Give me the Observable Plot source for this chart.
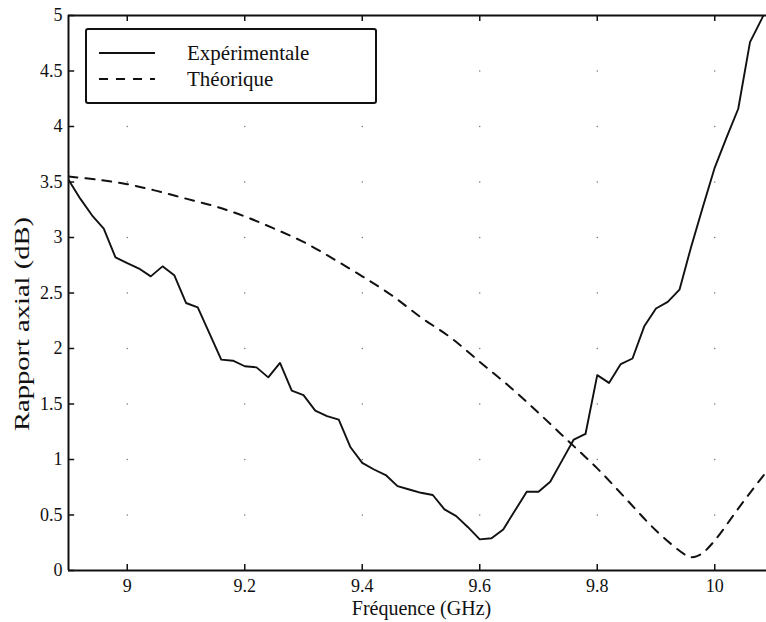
<!DOCTYPE html>
<html>
<head>
<meta charset="utf-8">
<script src="https://cdn.jsdelivr.net/npm/d3@7"></script>
<script src="https://cdn.jsdelivr.net/npm/@observablehq/plot@0.6"></script>
<style>
  html, body { margin: 0; padding: 0; background: #fff; }
  #wrap { position: relative; width: 766px; height: 622px; overflow: hidden; }
  #legend {
    position: absolute; left: 85px; top: 28px; width: 288px; height: 72px;
    border: 2px solid #111; border-radius: 3px; background: #fff;
    font-family: "Liberation Serif", "DejaVu Serif", serif; font-size: 21px; color: #111;
  }
  .row { position: absolute; left: 0; height: 26px; display: flex; align-items: center; }
  .row svg { margin-left: 12px; }
  .row span { margin-left: 30px; }
</style>
</head>
<body>
<div id="wrap">
  <div id="chart"></div>
  <div id="legend">
    <div class="row" style="top: 10px;">
      <svg width="58" height="10"><line x1="0" x2="56" y1="5" y2="5" stroke="#111" stroke-width="2"/></svg>
      <span>Expérimentale</span>
    </div>
    <div class="row" style="top: 36px;">
      <svg width="58" height="10"><line x1="0" x2="56" y1="5" y2="5" stroke="#111" stroke-width="2" stroke-dasharray="9,8"/></svg>
      <span>Théorique</span>
    </div>
  </div>
</div>
<script>
// Measured axial ratio (dB) versus frequency (GHz)
const freqExp = [8.90, 8.92, 8.94, 8.96, 8.98, 9.00, 9.02, 9.04, 9.06, 9.08, 9.10, 9.12,
  9.16, 9.18, 9.20, 9.22, 9.24, 9.26, 9.28, 9.30, 9.32, 9.34, 9.36, 9.38, 9.40, 9.42,
  9.44, 9.46, 9.48, 9.50, 9.52, 9.54, 9.56, 9.58, 9.60, 9.62, 9.64, 9.66, 9.68, 9.70,
  9.72, 9.74, 9.76, 9.78, 9.80, 9.82, 9.84, 9.86, 9.88, 9.90, 9.92, 9.94, 9.96, 9.98,
  10.00, 10.02, 10.04, 10.06, 10.08, 10.10];
const ratioExp = [3.52, 3.35, 3.20, 3.08, 2.82, 2.77, 2.72, 2.65, 2.74, 2.66, 2.41, 2.37,
  1.90, 1.89, 1.84, 1.83, 1.74, 1.87, 1.62, 1.58, 1.44, 1.39, 1.36, 1.11, 0.97, 0.91,
  0.86, 0.76, 0.73, 0.70, 0.68, 0.55, 0.49, 0.39, 0.28, 0.29, 0.37, 0.54, 0.71, 0.71,
  0.80, 0.99, 1.18, 1.23, 1.76, 1.69, 1.86, 1.91, 2.20, 2.36, 2.42, 2.53, 2.92, 3.28,
  3.63, 3.90, 4.16, 4.76, 4.97, 5.20];

// Theoretical axial ratio (dB)
const freqTheo = [8.90, 8.95, 9.00, 9.05, 9.10, 9.15, 9.20, 9.25, 9.30, 9.35, 9.40, 9.45,
  9.50, 9.55, 9.60, 9.65, 9.70, 9.75, 9.80, 9.85, 9.90, 9.95, 9.96, 9.97, 9.98, 10.00,
  10.05, 10.10];
const ratioTheo = [3.55, 3.52, 3.48, 3.42, 3.35, 3.28, 3.19, 3.08, 2.96, 2.81, 2.65, 2.48,
  2.28, 2.10, 1.88, 1.66, 1.42, 1.17, 0.92, 0.64, 0.36, 0.14, 0.12, 0.13, 0.16, 0.27,
  0.63, 0.97];

const xTicks = [9, 9.2, 9.4, 9.6, 9.8, 10];
const xTickLabels = ["9", "9.2", "9.4", "9.6", "9.8", "10"];
const yTicks = [0, 0.5, 1, 1.5, 2, 2.5, 3, 3.5, 4, 4.5, 5];
const yTickLabels = ["0", "0.5", "1", "1.5", "2", "2.5", "3", "3.5", "4", "4.5", "5"];

const experimental = freqExp.map((f, i) => ({f, r: ratioExp[i]}));
const theoretical = freqTheo.map((f, i) => ({f, r: ratioTheo[i]}));

const xMin = 8.9, xMax = 10.1, yMin = 0, yMax = 5;
const tickX = 0.0105;  // inward tick length in GHz (~6px)
const tickY = 0.055;   // inward tick length in dB (~6px)

// faint dotted-grid intersections
const gridDots = xTicks.flatMap(f => yTicks.slice(1, -1).map(r => ({f, r})));

const chart = Plot.plot({
  width: 766,
  height: 622,
  marginLeft: 68,
  marginTop: 15,
  marginBottom: 52,
  marginRight: 0,
  x: {domain: [xMin, xMax], range: [68, 773]},
  y: {domain: [yMin, yMax], range: [570, 15]},
  style: {fontFamily: "Liberation Serif, DejaVu Serif, serif", fontSize: "18px", color: "#111", background: "#fff"},
  marks: [
    Plot.dot(gridDots, {x: "f", y: "r", r: 0.7, fill: "#666", stroke: null}),
    Plot.line(theoretical, {x: "f", y: "r", stroke: "#111", strokeWidth: 2, strokeDasharray: "9,8", curve: "catmull-rom", clip: true}),
    Plot.line(experimental, {x: "f", y: "r", stroke: "#111", strokeWidth: 1.9, clip: true}),
    // box
    Plot.ruleY([yMin, yMax], {stroke: "#111", strokeWidth: 2}),
    Plot.ruleX([xMin, xMax], {stroke: "#111", strokeWidth: 2}),
    // inward ticks on all four sides
    Plot.ruleX(xTicks, {y1: yMin, y2: yMin + tickY, stroke: "#111", strokeWidth: 1.5}),
    Plot.ruleX(xTicks, {y1: yMax, y2: yMax - tickY, stroke: "#111", strokeWidth: 1.5}),
    Plot.ruleY(yTicks, {x1: xMin, x2: xMin + tickX, stroke: "#111", strokeWidth: 1.5}),
    Plot.ruleY(yTicks, {x1: xMax, x2: xMax - tickX, stroke: "#111", strokeWidth: 1.5}),
    Plot.axisX(xTicks, {tickSize: 0, tickPadding: 9, tickFormat: (d, i) => xTickLabels[i], label: null, fontSize: 18}),
    Plot.axisY(yTicks, {tickSize: 0, tickPadding: 6, tickFormat: (d, i) => yTickLabels[i], label: null, fontSize: 18}),
    Plot.text(["Fréquence (GHz)"], {frameAnchor: "bottom", dx: 4, dy: 38, fontSize: 20, lineAnchor: "middle"}),
    Plot.text(["Rapport axial (dB)"], {frameAnchor: "left", textAnchor: "middle", rotate: -90, dx: -46, dy: 31, fontSize: 20, lineAnchor: "middle", className: "ylabel"})
  ]
});
// the y title runs a little stretched along its length
d3.select(chart).selectAll(".ylabel text").attr("textLength", 214).attr("lengthAdjust", "spacingAndGlyphs");
document.getElementById("chart").appendChild(chart);
</script>
</body>
</html>
